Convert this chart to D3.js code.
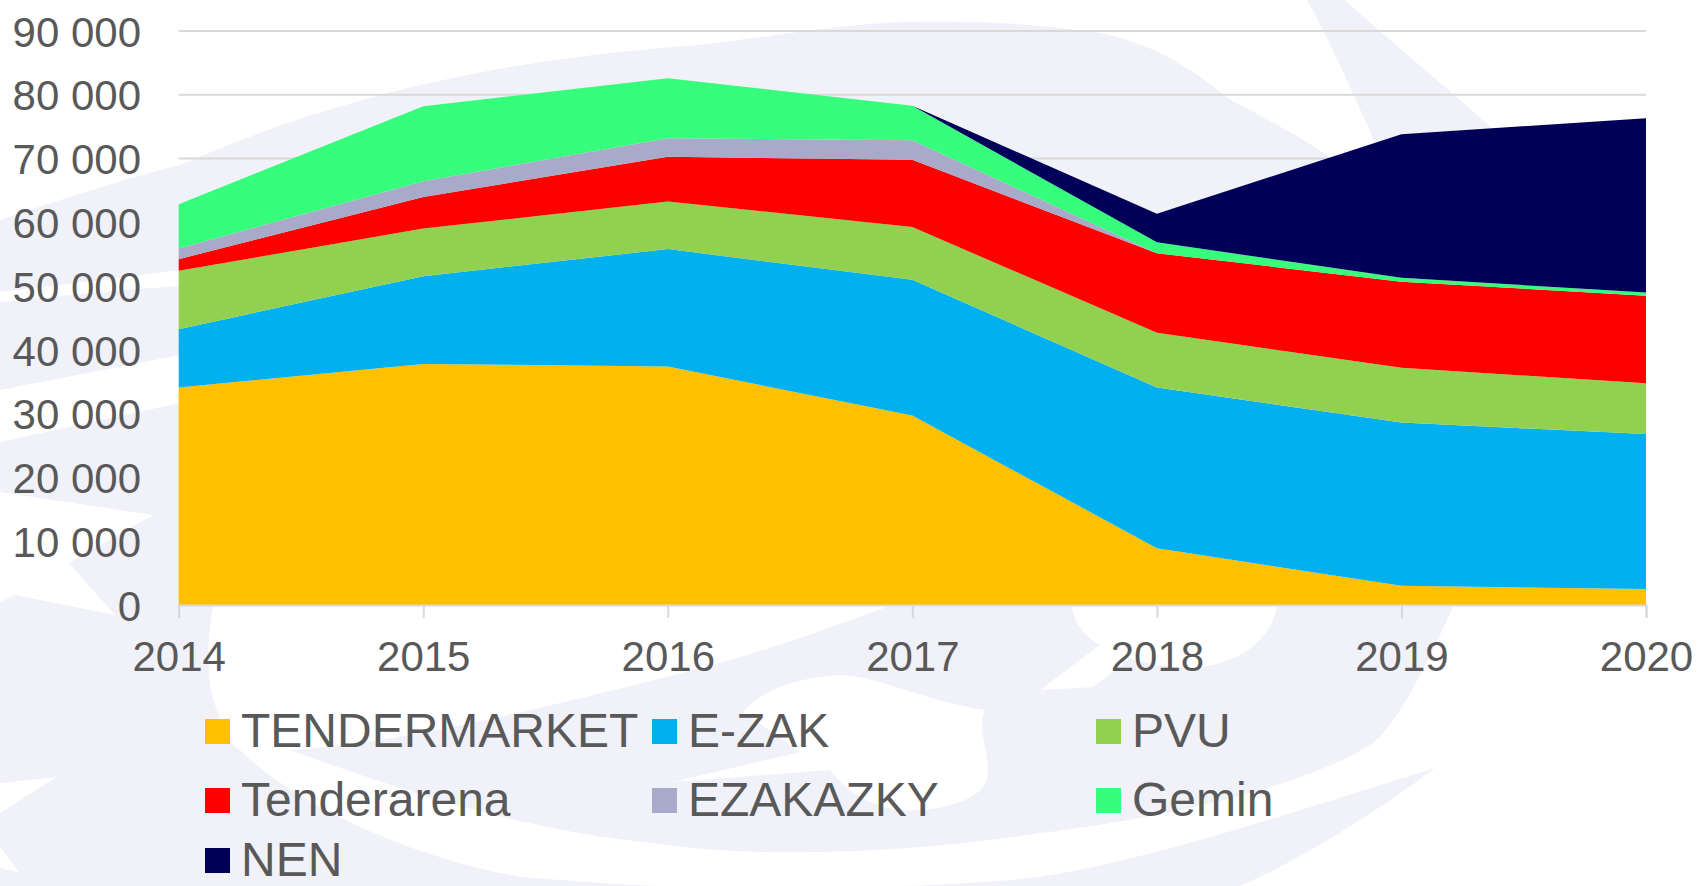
<!DOCTYPE html>
<html>
<head>
<meta charset="utf-8">
<script src="https://cdn.jsdelivr.net/npm/d3@7"></script>
<style>
  html, body { margin: 0; padding: 0; background: #ffffff; }
  svg { display: block; }
  text { font-family: "Liberation Sans", Arial, sans-serif; fill: #595959; }
</style>
</head>
<body>
<svg id="chart" width="1698" height="886"></svg>
<script>
// ---- data ----
const years = [2014, 2015, 2016, 2017, 2018, 2019, 2020];
const seriesNames = ["TENDERMARKET", "E-ZAK", "PVU", "Tenderarena", "EZAKAZKY", "Gemin", "NEN"];
const tendermarket = [34100, 37800, 37400, 29700, 8900, 3000, 2500];
const ezak         = [9150, 13750, 18400, 21300, 25200, 25600, 24300];
const pvu          = [9150, 7470, 7480, 8250, 8600, 8600, 7950];
const tenderarena  = [1830, 4960, 6990, 10560, 12450, 13500, 13730];
const ezakazky     = [1680, 2460, 2930, 3070, 0, 0, 0];
const gemin        = [6940, 11750, 9400, 5390, 1730, 600, 530];
const nen          = [0, 0, 0, 0, 4480, 22500, 27320];
const yTicks = [0, 10000, 20000, 30000, 40000, 50000, 60000, 70000, 80000, 90000];
const colors = ["#FFC000", "#00B0F0", "#92D050", "#FF0000", "#A9AAC9", "#36FD7C", "#000058"];

const seriesValues = [tendermarket, ezak, pvu, tenderarena, ezakazky, gemin, nen];
const table = years.map((yr, i) => {
  const row = { year: yr };
  seriesNames.forEach((n, k) => row[n] = seriesValues[k][i]);
  return row;
});

const svg = d3.select("#chart");

// ---- watermark (light decorative logo) ----
const wm = svg.append("g");
const lav = "#F0F1F9";
const lavPaths = [
  "M0,220 C60,200 120,180 180,165 C260,130 330,108 400,90 C500,65 600,52 700,45 C780,35 840,25 900,22 C980,20 1040,24 1100,33 C1160,45 1200,75 1230,100 C1270,120 1305,140 1330,157 C1360,190 1385,225 1400,270 L1350,330 C1200,300 1000,280 700,280 C450,280 250,268 180,270 C120,278 60,285 0,292 Z",
  "M1307,0 L1345,0 C1400,50 1450,90 1494,130 C1540,190 1580,260 1600,330 L1560,340 C1520,250 1440,180 1383,160 C1360,110 1335,50 1307,0 Z",
  "M0,302 C60,296 120,290 180,286 L213,607 C205,650 208,690 217,710 C225,735 230,745 240,750 C290,800 400,855 520,877 L640,886 L0,886 Z",
  "M290,750 C400,742 520,715 720,663 C800,640 850,620 887,607 L1453,607 C1420,680 1395,725 1373,743 C1300,790 1150,820 1040,833 C900,855 750,858 653,843 C520,830 400,790 290,750 Z",
  "M520,880 C700,890 900,892 1040,877 C1150,860 1300,810 1435,768 C1380,810 1300,860 1240,886 L520,886 Z"
];
lavPaths.forEach(d => wm.append("path").attr("d", d).attr("fill", lav));
const whitePaths = [
  "M0,390 L180,355 L180,403 L0,442 Z",
  "M0,492 L153,515 L69,563 L115,615 L15,595 L0,602 Z",
  "M0,783 L57,777 L0,813 Z",
  "M0,847 L20,873 L0,868 Z",
  "M1072,607 C1075,640 1120,665 1190,668 C1240,665 1270,640 1277,607 Z",
  "M1040,690 L1093,687 L1197,607 L1150,607 Z",
  "M743,712 C760,690 800,677 840,675 C880,676 920,700 985,710 C975,735 995,760 985,785 C970,805 930,812 900,810 C870,807 845,790 830,770 L673,782 L800,752 Z"
];
whitePaths.forEach(d => wm.append("path").attr("d", d).attr("fill", "#ffffff"));

// ---- scales ----
const x = d3.scaleLinear().domain([2014, 2020]).range([178.7, 1646]);
const y = d3.scaleLinear().domain([0, 90000]).range([605, 31]);

// gridlines
svg.append("g").selectAll("line").data(yTicks.filter(t => t > 0)).join("line")
  .attr("x1", x(2014)).attr("x2", x(2020))
  .attr("y1", d => y(d)).attr("y2", d => y(d))
  .attr("stroke", "#D9D9D9").attr("stroke-width", 2);

// stacked areas
const stack = d3.stack().keys(seriesNames);
const layers = stack(table);
const area = d3.area()
  .x(d => x(d.data.year))
  .y0(d => y(d[0]))
  .y1(d => y(d[1]));
svg.append("g").selectAll("path").data(layers).join("path")
  .attr("d", area)
  .attr("fill", (d, i) => colors[i]);

// x axis
const xAxis = d3.axisBottom(x).tickValues(years).tickFormat(d3.format("d")).tickSize(13).tickPadding(10);
const gx = svg.append("g").attr("transform", `translate(0,${y(0)})`).call(xAxis);
gx.select(".domain").attr("stroke", "#D9D9D9").attr("stroke-width", 2);
gx.selectAll(".tick line").attr("stroke", "#D9D9D9").attr("stroke-width", 2);
gx.selectAll(".tick text").attr("font-size", 42).attr("font-family", "Liberation Sans, Arial, sans-serif")
  .attr("fill", "#595959").attr("dy", null).attr("y", 66);

// y axis labels
const fmt = v => d3.format(",")(v).replace(/,/g, " ");
const yAxis = d3.axisLeft(y).tickValues(yTicks).tickFormat(fmt).tickSize(0).tickPadding(0);
const gy = svg.append("g").attr("transform", `translate(141,0)`).call(yAxis);
gy.select(".domain").remove();
gy.selectAll(".tick text").attr("font-size", 42).attr("font-family", "Liberation Sans, Arial, sans-serif")
  .attr("fill", "#595959").attr("dy", "0.36em");

// legend
const legendCols = [205, 652, 1096];
const legendRows = [747, 816, 876];
const lg = svg.append("g");
seriesNames.forEach((n, i) => {
  const cx = legendCols[i % 3], by = legendRows[Math.floor(i / 3)];
  lg.append("rect").attr("x", cx).attr("y", by - 28).attr("width", 25).attr("height", 25).attr("fill", colors[i]);
  lg.append("text").attr("x", cx + 36).attr("y", by).attr("font-size", 48).text(n);
});
</script>
</body>
</html>
